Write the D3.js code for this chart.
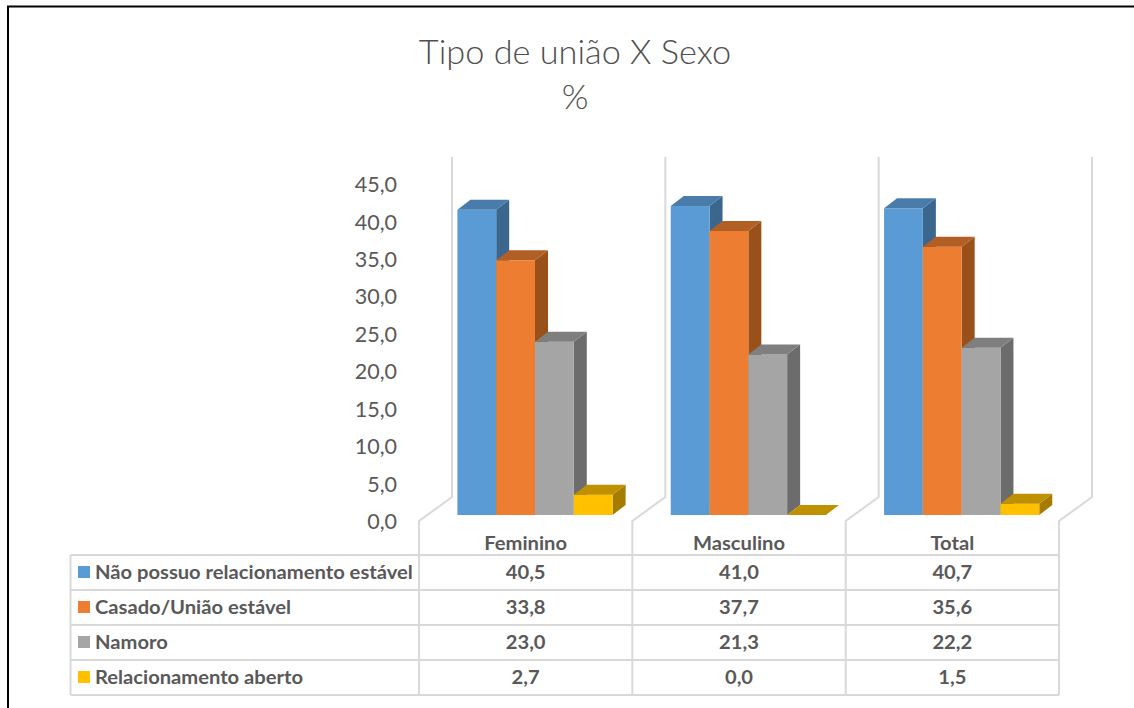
<!DOCTYPE html>
<html><head><meta charset="utf-8">
<script src="https://cdn.jsdelivr.net/npm/d3@7/dist/d3.min.js"></script>
<style>html,body{margin:0;padding:0;background:#fff}svg{display:block}text{font-family:Lato,"Open Sans",sans-serif;fill:#595959}</style>
</head><body><svg id="c" width="1134" height="708"></svg>
<script>
const categories = ["Feminino","Masculino","Total"];
const seriesNames = ["Não possuo relacionamento estável","Casado/União estável","Namoro","Relacionamento aberto"];
const naoPossuo = [40.5,41.0,40.7];
const casado = [33.8,37.7,35.6];
const namoro = [23.0,21.3,22.2];
const aberto = [2.7,0.0,1.5];
const seriesValues = [naoPossuo,casado,namoro,aberto];
const tickValues = [0,5,10,15,20,25,30,35,40,45];
const titleLines = ["Tipo de união X Sexo","%"];
const front = ["#5B9BD5","#ED7D31","#A5A5A5","#FFC000"];
const topFace = ["#4A7CAB","#B25F25","#7F7F7F","#BF9000"];
const sideFace = ["#3B678F","#9A5119","#6C6C6C","#A67C00"];

const fmt = v => d3.format(".1f")(v).replace(".",",");
const svg = d3.select("#c");
const DX=13, DY=10;
const tableLeft=70.5, colStart=419, colEnd=1059, tableTop=555, rowH=35;
const wall="#d9d9d9";
// the reference's text is horizontally stretched: widen each label by a factor
const stretch = (sel,k) => sel.each(function(){
  const n=this; n.setAttribute("textLength",n.getComputedTextLength()*k);
  n.setAttribute("lengthAdjust","spacingAndGlyphs");
});

svg.append("path").attr("d","M8 708V6.5H1134").attr("fill","none").attr("stroke","#000").attr("stroke-width",2);

svg.selectAll("text.title").data(titleLines).join("text").attr("class","title")
  .attr("x",575).attr("y",(d,i)=>64+i*45).attr("text-anchor","middle")
  .style("font-size","34.3px").style("font-weight",300).style("fill","#4f4f4f").text(d=>d);

const x0 = d3.scaleBand().domain(categories).range([colStart,colEnd]);
const x1 = d3.scaleBand().domain(d3.range(4)).range([38.4,193.6]);
const yBar = d3.scaleLinear().domain([0,45]).range([515,175.9]);
const yTick = d3.scaleLinear().domain([0,45]).range([522,185]);

const wallEdges = x0.domain().map(c=>x0(c)).concat([colEnd]);
svg.selectAll("path.wall").data(wallEdges).join("path").attr("class","wall")
  .attr("d",x=>`M${x+33} 157V497L${x} 521V${tableTop}`)
  .attr("fill","none").attr("stroke",wall).attr("stroke-width",2);

const axis = d3.axisLeft(yTick).tickValues(tickValues).tickFormat(fmt).tickSize(0).tickPadding(0);
const ax = svg.append("g").attr("transform","translate(397,0)").call(axis);
ax.select(".domain").remove();
ax.selectAll("text").style("font-size","20.5px").style("fill","#595959").style("font-family","Lato,sans-serif").call(stretch,1.05);

categories.forEach((c,ci)=>{
  const g = svg.append("g");
  seriesValues.forEach((vals,si)=>{
    const l = x0(c)+x1(si), r = l+x1.bandwidth(), b = yBar(0), t = yBar(vals[ci]);
    if (b-t>0) {
      g.append("path").attr("fill",sideFace[si])
        .attr("d",`M${r} ${t}L${r+DX} ${t-DY}V${b-DY}L${r} ${b}Z`);
      g.append("rect").attr("x",l).attr("y",t).attr("width",r-l).attr("height",b-t).attr("fill",front[si]);
    }
    g.append("path").attr("fill",topFace[si])
      .attr("d",`M${l} ${t}L${l+DX} ${t-DY}H${r+DX}L${r} ${t}Z`);
  });
});

const rowY = d3.range(5).map(i=>tableTop+i*rowH);
svg.selectAll("line.h").data(rowY).join("line").attr("class","h")
  .attr("x1",tableLeft).attr("x2",colEnd).attr("y1",d=>d).attr("y2",d=>d)
  .attr("stroke",wall).attr("stroke-width",2);
svg.selectAll("line.v").data([tableLeft].concat(wallEdges)).join("line").attr("class","v")
  .attr("x1",d=>d).attr("x2",d=>d).attr("y1",tableTop).attr("y2",tableTop+4*rowH)
  .attr("stroke",wall).attr("stroke-width",2);

const FS="18px", K=1.12;
svg.selectAll("text.cat").data(categories).join("text").attr("class","cat")
  .attr("x",d=>x0(d)+x0.bandwidth()/2).attr("y",549.5).attr("text-anchor","middle")
  .style("font-size",FS).style("font-weight",700).text(d=>d).call(stretch,K);

seriesNames.forEach((name,si)=>{
  const y = rowY[si];
  svg.append("rect").attr("x",78).attr("y",y+11).attr("width",12).attr("height",12).attr("fill",front[si]);
  svg.append("text").attr("x",95).attr("y",y+23.7).style("font-size",FS).style("font-weight",700).text(name).call(stretch,K);
  categories.forEach((c,ci)=>{
    svg.append("text").attr("x",x0(c)+x0.bandwidth()/2).attr("y",y+23.7).attr("text-anchor","middle")
      .style("font-size",FS).style("font-weight",700).text(fmt(seriesValues[si][ci])).call(stretch,K);
  });
});
</script></body></html>
